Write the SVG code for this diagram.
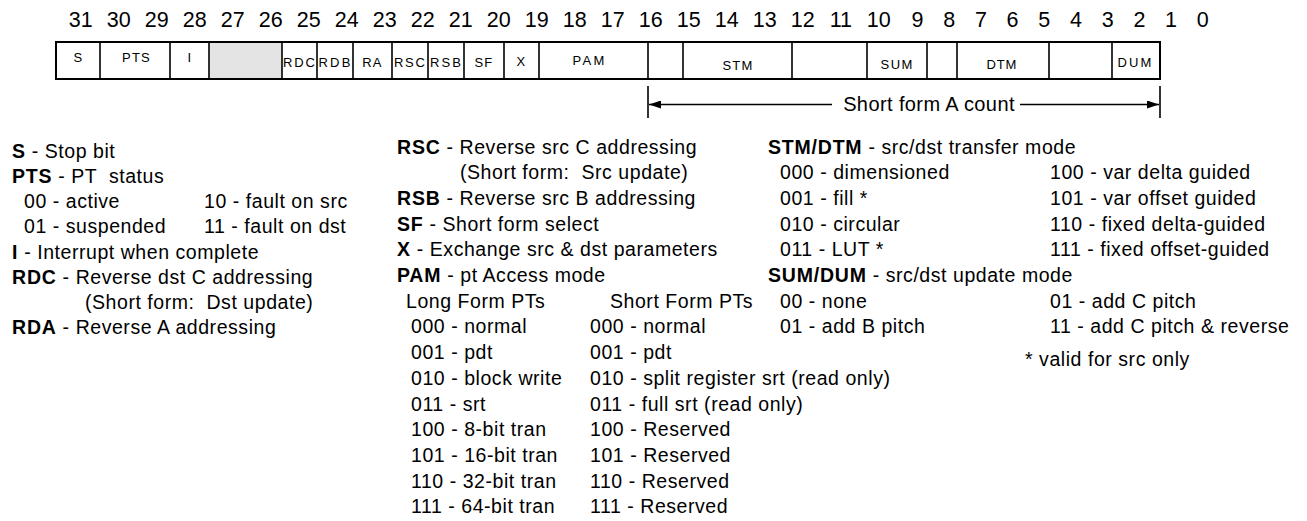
<svg xmlns="http://www.w3.org/2000/svg" width="1307" height="521" viewBox="0 0 1307 521">
<style>
text{font-family:"Liberation Sans",Arial,sans-serif;fill:#000}
.bn{font-size:21.5px;text-anchor:middle}
.fl{font-size:13px;text-anchor:middle;letter-spacing:1.2px}
.lg{font-size:19.5px;letter-spacing:0.55px}
.b{font-weight:bold;letter-spacing:0.8px}
.div{stroke:#000;stroke-width:1.6}
</style>
<defs>
<marker id="ah" markerWidth="12" markerHeight="8" refX="12" refY="4" orient="auto" markerUnits="userSpaceOnUse">
<path d="M0,0 L12,4 L0,8 Z" fill="#000"/>
</marker>
</defs>
<g id="bit-numbers">
<text class="bn" x="80.8" y="27">31</text><text class="bn" x="118.8" y="27">30</text><text class="bn" x="156.8" y="27">29</text><text class="bn" x="194.8" y="27">28</text><text class="bn" x="232.8" y="27">27</text><text class="bn" x="270.8" y="27">26</text><text class="bn" x="308.8" y="27">25</text><text class="bn" x="346.8" y="27">24</text><text class="bn" x="384.8" y="27">23</text><text class="bn" x="422.8" y="27">22</text><text class="bn" x="460.8" y="27">21</text><text class="bn" x="498.8" y="27">20</text><text class="bn" x="536.8" y="27">19</text><text class="bn" x="574.8" y="27">18</text><text class="bn" x="612.8" y="27">17</text><text class="bn" x="650.8" y="27">16</text><text class="bn" x="688.8" y="27">15</text><text class="bn" x="726.8" y="27">14</text><text class="bn" x="764.8" y="27">13</text><text class="bn" x="802.8" y="27">12</text><text class="bn" x="840.8" y="27">11</text><text class="bn" x="878.8" y="27">10</text><text class="bn" x="917.5" y="27">9</text><text class="bn" x="949.2" y="27">8</text><text class="bn" x="980.9" y="27">7</text><text class="bn" x="1012.6" y="27">6</text><text class="bn" x="1044.3" y="27">5</text><text class="bn" x="1076" y="27">4</text><text class="bn" x="1107.7" y="27">3</text><text class="bn" x="1139.4" y="27">2</text><text class="bn" x="1171.1" y="27">1</text><text class="bn" x="1202.8" y="27">0</text>
</g>
<g id="register">
<rect x="209" y="42" width="73" height="37" fill="#e4e4e4"/>
<rect x="56" y="42" width="1104" height="37" fill="none" stroke="#000" stroke-width="2"/>
<g class="div">
<line x1="100" y1="42" x2="100" y2="79"/><line x1="170" y1="42" x2="170" y2="79"/><line x1="209" y1="42" x2="209" y2="79"/><line x1="282" y1="42" x2="282" y2="79"/><line x1="317" y1="42" x2="317" y2="79"/><line x1="353" y1="42" x2="353" y2="79"/><line x1="392" y1="42" x2="392" y2="79"/><line x1="428" y1="42" x2="428" y2="79"/><line x1="464" y1="42" x2="464" y2="79"/><line x1="504" y1="42" x2="504" y2="79"/><line x1="539" y1="42" x2="539" y2="79"/><line x1="648" y1="42" x2="648" y2="79"/><line x1="683" y1="42" x2="683" y2="79"/><line x1="792" y1="42" x2="792" y2="79"/><line x1="867" y1="42" x2="867" y2="79"/><line x1="927" y1="42" x2="927" y2="79"/><line x1="957" y1="42" x2="957" y2="79"/><line x1="1049" y1="42" x2="1049" y2="79"/><line x1="1112" y1="42" x2="1112" y2="79"/>
</g>
<g id="f-S"><text class="fl" x="78.5" y="62">S</text></g>
<g id="f-PTS"><text class="fl" x="136.5" y="62">PTS</text></g>
<g id="f-I"><text class="fl" x="190" y="62">I</text></g>
<g id="f-RDC"><text class="fl" x="299.5" y="66.5" textLength="33" lengthAdjust="spacing">RDC</text></g>
<g id="f-RDB"><text class="fl" x="335" y="66.5" textLength="33" lengthAdjust="spacing">RDB</text></g>
<g id="f-RA"><text class="fl" x="372.5" y="66.5">RA</text></g>
<g id="f-RSC"><text class="fl" x="410" y="66.5" textLength="32" lengthAdjust="spacing">RSC</text></g>
<g id="f-RSB"><text class="fl" x="446" y="66.5" textLength="32" lengthAdjust="spacing">RSB</text></g>
<g id="f-SF"><text class="fl" x="484" y="66.5">SF</text></g>
<g id="f-X"><text class="fl" x="521.5" y="65.5">X</text></g>
<g id="f-PAM"><text class="fl" x="589" y="65" textLength="33" lengthAdjust="spacing">PAM</text></g>
<g id="f-STM"><text class="fl" x="738" y="70" textLength="31" lengthAdjust="spacing">STM</text></g>
<g id="f-SUM"><text class="fl" x="897" y="68.5" textLength="33" lengthAdjust="spacing">SUM</text></g>
<g id="f-DTM"><text class="fl" x="1002" y="68.5" textLength="31" lengthAdjust="spacing">DTM</text></g>
<g id="f-DUM"><text class="fl" x="1135" y="67" textLength="35" lengthAdjust="spacing">DUM</text></g>
</g>
<g id="connectors" stroke="#000" stroke-width="1.6">
<line x1="648" y1="86" x2="648" y2="118"/>
<line x1="1160" y1="86" x2="1160" y2="118"/>
<line x1="832" y1="104.5" x2="649" y2="104.5" marker-end="url(#ah)"/>
<line x1="1020" y1="104.5" x2="1159" y2="104.5" marker-end="url(#ah)"/>
</g>
<g id="count-label"><text x="929" y="111" text-anchor="middle" style="font-size:20px;letter-spacing:0.4px">Short form A count</text></g>
<g id="legend-1">
<text class="lg" x="12" y="158"><tspan class="b">S</tspan> - Stop bit</text>
<text class="lg" x="12" y="183" xml:space="preserve"><tspan class="b">PTS</tspan> - PT  status</text>
<text class="lg" x="24" y="208">00 - active</text>
<text class="lg" x="204" y="208">10 - fault on src</text>
<text class="lg" x="24" y="233">01 - suspended</text>
<text class="lg" x="204" y="233">11 - fault on dst</text>
<text class="lg" x="12" y="258.5"><tspan class="b">I</tspan> - Interrupt when complete</text>
<text class="lg" x="12" y="283.5"><tspan class="b">RDC</tspan> - Reverse dst C addressing</text>
<text class="lg" x="85" y="308.5" xml:space="preserve">(Short form:  Dst update)</text>
<text class="lg" x="12" y="334"><tspan class="b">RDA</tspan> - Reverse A addressing</text>
</g>
<g id="legend-2">
<text class="lg" x="397" y="153.5"><tspan class="b">RSC</tspan> - Reverse src C addressing</text>
<text class="lg" x="460" y="179.2" xml:space="preserve">(Short form:  Src update)</text>
<text class="lg" x="397" y="204.9"><tspan class="b">RSB</tspan> - Reverse src B addressing</text>
<text class="lg" x="397" y="230.6"><tspan class="b">SF</tspan> - Short form select</text>
<text class="lg" x="397" y="256.3"><tspan class="b">X</tspan> - Exchange src &amp; dst parameters</text>
<text class="lg" x="397" y="282"><tspan class="b">PAM</tspan> - pt Access mode</text>
<text class="lg" x="406" y="307.7">Long Form PTs</text>
<text class="lg" x="610" y="307.7">Short Form PTs</text>
<text class="lg" x="411" y="333.4">000 - normal</text>
<text class="lg" x="590" y="333.4">000 - normal</text>
<text class="lg" x="411" y="359.1">001 - pdt</text>
<text class="lg" x="590" y="359.1">001 - pdt</text>
<text class="lg" x="411" y="384.8">010 - block write</text>
<text class="lg" x="590" y="384.8">010 - split register srt (read only)</text>
<text class="lg" x="411" y="410.5">011 - srt</text>
<text class="lg" x="590" y="410.5">011 - full srt (read only)</text>
<text class="lg" x="411" y="436.2">100 - 8-bit tran</text>
<text class="lg" x="590" y="436.2">100 - Reserved</text>
<text class="lg" x="411" y="461.9">101 - 16-bit tran</text>
<text class="lg" x="590" y="461.9">101 - Reserved</text>
<text class="lg" x="411" y="487.6">110 - 32-bit tran</text>
<text class="lg" x="590" y="487.6">110 - Reserved</text>
<text class="lg" x="411" y="513.3">111 - 64-bit tran</text>
<text class="lg" x="590" y="513.3">111 - Reserved</text>
</g>
<g id="legend-3">
<text class="lg" x="768" y="153.5"><tspan class="b">STM/DTM</tspan> - src/dst transfer mode</text>
<text class="lg" x="780" y="179.2">000 - dimensioned</text>
<text class="lg" x="1050" y="179.2">100 - var delta guided</text>
<text class="lg" x="780" y="204.9">001 - fill *</text>
<text class="lg" x="1050" y="204.9">101 - var offset guided</text>
<text class="lg" x="780" y="230.6">010 - circular</text>
<text class="lg" x="1050" y="230.6">110 - fixed delta-guided</text>
<text class="lg" x="780" y="256.3">011 - LUT *</text>
<text class="lg" x="1050" y="256.3">111 - fixed offset-guided</text>
<text class="lg" x="768" y="282"><tspan class="b">SUM/DUM</tspan> - src/dst update mode</text>
<text class="lg" x="780" y="307.7">00 - none</text>
<text class="lg" x="1050" y="307.7">01 - add C pitch</text>
<text class="lg" x="780" y="333.4">01 - add B pitch</text>
<text class="lg" x="1050" y="333.4">11 - add C pitch &amp; reverse</text>
<text class="lg" x="1025" y="366">* valid for src only</text>
</g>
</svg>
